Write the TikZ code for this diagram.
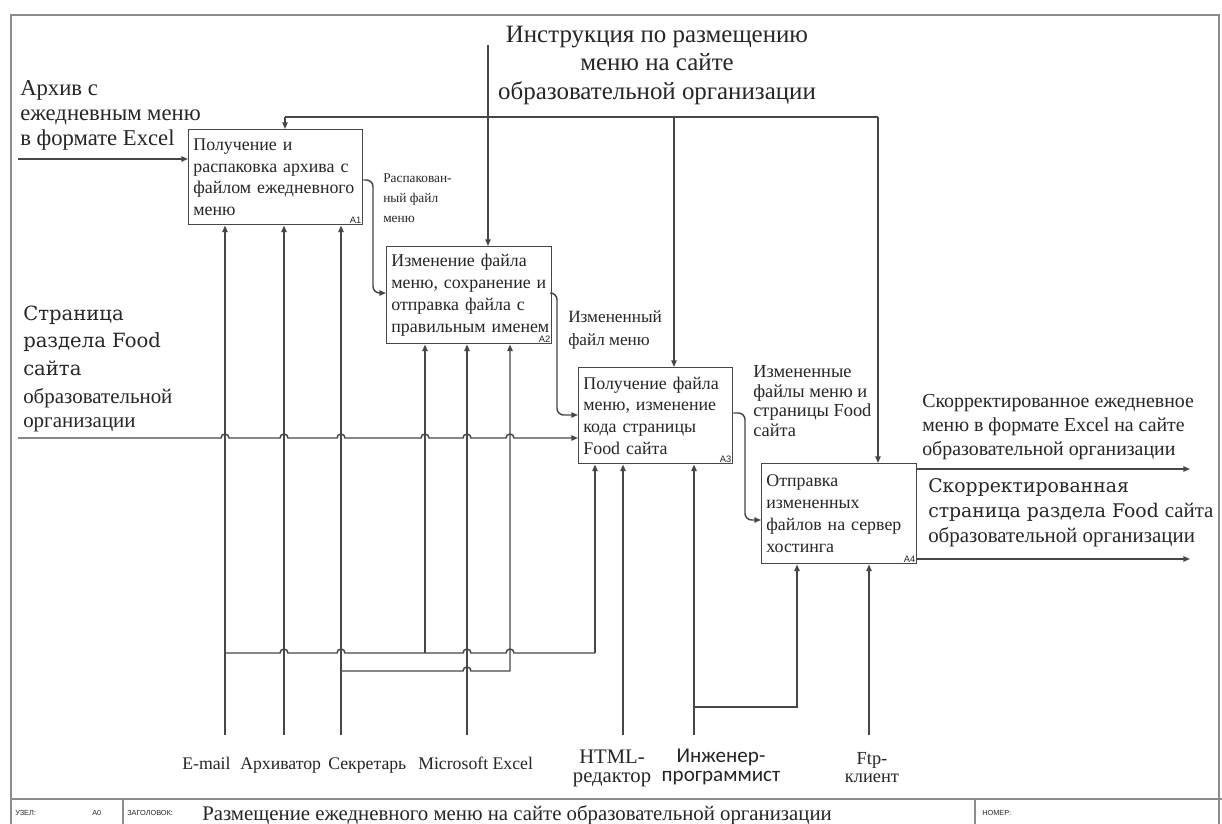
\documentclass[tikz,border=0pt]{standalone}
\usepackage{fontspec}
\setmainfont{Liberation Serif}
\newfontfamily\camfont{DejaVu Serif}
\newfontfamily\calfont{Carlito}
\newfontfamily\tagfont{Liberation Sans}
\usetikzlibrary{arrows.meta}

% a small hop where a horizontal run crosses a vertical line at x=#1 (run at y=#2)
\newcommand{\hop}[2]{-- ({#1-4},#2) arc[start angle=180,end angle=360,radius=4]}
\newcommand{\fsz}[2]{\fontsize{#1}{#2}\selectfont}

\begin{document}
\begin{tikzpicture}[x=0.75pt,y=-0.75pt,
  ink/.style={text=black!85},
  wire/.style={draw=black!72,line width=1.1pt},
  flow/.style={wire,-{Triangle[length=5pt,width=4pt]}},
  elbow/.style={wire,rounded corners=5pt,-{Triangle[length=5pt,width=4pt]}},
  frameline/.style={draw=black!45,line width=1.4pt},
  act/.style={draw=black!72,line width=1.1pt,fill=white,anchor=north west,
    align=left,inner xsep=3.5pt,inner ysep=0pt,ink,font=\fsz{13.4}{16.3}},
  tag/.style={anchor=south east,inner sep=1.5pt,ink,font=\tagfont\fsz{7}{8}},
  lbl/.style={anchor=base west,align=left,inner sep=0pt,ink},
  clbl/.style={anchor=base,align=center,inner sep=0pt,ink},
]
\useasboundingbox (0,0) rectangle (1222,824);
\fill[white] (0,0) rectangle (1222,824);

% sheet frame and footer
\draw[frameline] (11,830) -- (11,15) -- (1219,15) -- (1219,830);
\draw[frameline] (11,799) -- (1222,799);
\draw[frameline] (123,799) -- (123,830);
\draw[frameline] (975,799) -- (975,830);

% activity boxes
\node[act,minimum width=130.5pt,minimum height=71.25pt,text width=123.5pt] (A1) at (188,129)
  {Получение~и\\распаковка~архива~с\\файлом~ежедневного\\меню};
\node[act,minimum width=123.75pt,minimum height=72.75pt,text width=116.75pt] (A2) at (386,246)
  {Изменение~файла\\меню,~сохранение~и\\отправка~файла~с\\правильным~именем};
\node[act,minimum width=115.5pt,minimum height=72pt,text width=108.5pt] (A3) at (578,367)
  {Получение~файла\\меню,~изменение\\кода~страницы\\Food~сайта};
\node[act,minimum width=116.25pt,minimum height=75pt,text width=109.25pt] (A4) at (761,463)
  {Отправка\\измененных\\файлов~на~сервер\\хостинга};
\node[tag] (A1t) at (A1.south east) {A1};
\node[tag] (A2t) at (A2.south east) {A2};
\node[tag] (A3t) at (A3.south east) {A3};
\node[tag] (A4t) at (A4.south east) {A4};

% boundary ends
\coordinate (inArc) at (18,159);
\coordinate (inPage) at (18,438);
\coordinate (ctlTop) at (488,45);
\coordinate (cL) at (285,117);
\coordinate (cM) at (674,117);
\coordinate (cR) at (878,117);
\coordinate (mMail) at (225,735);
\coordinate (mArch) at (284,735);
\coordinate (mSec) at (341,735);
\coordinate (mXls) at (467,735);
\coordinate (mHtml) at (623,735);
\coordinate (mEng) at (694,735);
\coordinate (mFtp) at (869,735);
\coordinate (outMenu) at (1190,469);
\coordinate (outPage) at (1190,559);

% inputs
\draw[flow] (inArc) -- (inArc -| A1.west);
\draw[flow] (inPage) \hop{225}{438} \hop{284}{438} \hop{341}{438} \hop{425}{438}
  \hop{467}{438} \hop{510}{438} -- (inPage -| A3.west);

% controls
\draw[flow] (ctlTop) -- (ctlTop |- A2.north);
\draw[wire] (cL) -- (cR);
\draw[flow] (cL) -- (cL |- A1.north);
\draw[flow] (cM) -- (cM |- A3.north);
\draw[flow] (cR) -- (cR |- A4.north);

% outputs passed between activities
\draw[elbow] (A1.east |- 0,180) -- (373,180) -- (373,293) -- (A2.west |- 0,293);
\draw[elbow] (A2.east |- 0,293) -- (557,293) -- (557,415) -- (A3.west |- 0,415);
\draw[elbow] (A3.east |- 0,413) -- (745,413) -- (745,520) -- (A4.west |- 0,520);
\draw[flow] (A4.east |- outMenu) -- (outMenu);
\draw[flow] (A4.east |- outPage) -- (outPage);

% mechanisms
\draw[flow] (mMail) -- (mMail |- A1.south);
\draw[flow] (mArch) -- (mArch |- A1.south);
\draw[flow] (mSec) -- (mSec |- A1.south);
\coordinate (jMail) at (225,653);
\coordinate (jA2a) at (425,653);
\coordinate (jA3a) at (595,653);
\draw[wire] (jMail) \hop{284}{653} \hop{341}{653} -- (jA2a) \hop{467}{653} \hop{510}{653} -- (jA3a);
\draw[flow] (jA2a) -- (jA2a |- A2.south);
\draw[flow] (jA3a) -- (jA3a |- A3.south);
\coordinate (jSec) at (341,671);
\coordinate (jA2c) at (510,671);
\draw[flow] (jSec) \hop{467}{671} -- (jA2c) -- (jA2c |- A2.south);
\draw[flow] (mXls) -- (mXls |- A2.south);
\draw[flow] (mHtml) -- (mHtml |- A3.south);
\draw[flow] (mEng) -- (mEng |- A3.south);
\coordinate (jEng) at (694,707);
\coordinate (jA4) at (797,707);
\draw[flow] (jEng) -- (jA4) -- (jA4 |- A4.south);
\draw[flow] (mFtp) -- (mFtp |- A4.south);

% arrow labels (each anchored at the baseline of its last line)
\node[lbl,font=\fsz{17}{18.8}] (tArc) at (20,146) {Архив с\\ежедневным меню\\в формате Excel};
\node[clbl,font=\fsz{18.7}{21.75}] (tCtl) at (657,100)
  {Инструкция по размещению\\меню на сайте\\образовательной организации};
\node[lbl,font=\fsz{10}{15}] (tA12) at (383,222) {Распакован-\\ный файл\\меню};
\node[lbl,font=\fsz{12.9}{17.2}] (tA23) at (568,345) {Измененный\\файл меню};
\node[lbl,font=\fsz{13.8}{14.6}] (tA34) at (753,436) {Измененные\\файлы меню и\\страницы Food\\сайта};
\node[lbl,font=\fsz{14.9}{18}] (tOut1) at (922,455)
  {Скорректированное ежедневное\\меню в формате Excel на сайте\\образовательной организации};
\node[lbl,font=\camfont\fsz{14.1}{18.4}] (tOut2) at (928,517)
  {Скорректированная\\страница раздела Food {\rmfamily\fsz{15.7}{18}сайта}};
\node[lbl,font=\fsz{15.7}{18}] (tOut2c) at (928,542) {образовательной организации};
\node[lbl,font=\camfont\fsz{14.7}{20.6}] (tPage) at (23,375) {Страница\\раздела Food\\сайта};
\node[lbl,font=\fsz{15.7}{18}] (tPage2) at (23,427) {образовательной\\организации};

\node[lbl,font=\fsz{13.3}{16}] (tMail) at (182,769) {E-mail};
\node[lbl,font=\fsz{13.3}{16}] (tArch) at (240,769) {Архиватор};
\node[lbl,font=\fsz{13.3}{16}] (tSec) at (328,769) {Секретарь};
\node[lbl,font=\fsz{13.3}{16}] (tXls) at (418,769) {Microsoft Excel};
\node[clbl,font=\fsz{15.5}{14}] (tHtml) at (612,782) {HTML-\\редактор};
\node[clbl,font=\calfont\fsz{15.8}{14}] (tEng) at (721,781) {Инженер-\\программист};
\node[clbl,font=\fsz{13.8}{13.5}] (tFtp) at (872,782) {Ftp-\\клиент};

% footer
\node[lbl,font=\tagfont\fsz{5.5}{6}] (fNode) at (15,815) {УЗЕЛ:};
\node[lbl,font=\tagfont\fsz{5.5}{6}] (fNum) at (92,815) {A0};
\node[lbl,font=\tagfont\fsz{5.5}{6}] (fHead) at (127,815) {ЗАГОЛОВОК:};
\node[lbl,font=\fsz{15.6}{18}] (fTitle) at (202,820)
  {Размещение ежедневного меню на сайте образовательной организации};
\node[lbl,font=\tagfont\fsz{5.5}{6}] (fNo) at (982,815) {НОМЕР:};
\end{tikzpicture}
\end{document}
